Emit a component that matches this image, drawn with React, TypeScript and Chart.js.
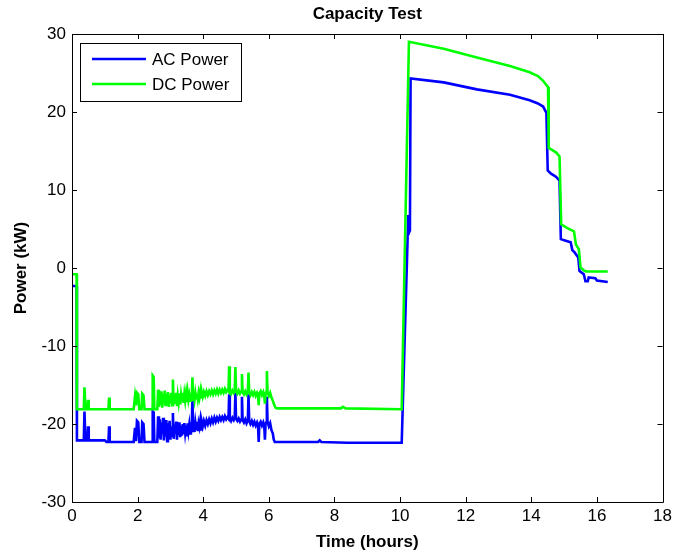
import React, { useEffect, useRef } from "react";
import { Chart, registerables } from "chart.js";

Chart.register(...registerables);

// ---- Data (hours, kW) ----
const acTime = [
  0, 0.14, 0.15, 0.36, 0.38, 0.41, 0.47, 0.49, 0.51, 1.0, 1.05, 1.11, 1.13, 1.15,
  1.88, 1.92, 1.95, 1.98, 2.02, 2.05, 2.12, 2.14, 2.18, 2.21, 2.44, 2.46, 2.49, 2.51,
  2.6, 2.625, 2.65, 2.675, 2.7, 2.725, 2.75, 2.775, 2.8, 2.825, 2.85, 2.875, 2.9,
  2.925, 2.95, 2.975, 3.0, 3.025, 3.05, 3.075, 3.1, 3.125, 3.15, 3.175, 3.2, 3.225,
  3.25, 3.275, 3.3, 3.325, 3.35, 3.375, 3.4, 3.425, 3.45, 3.475, 3.5, 3.525, 3.55,
  3.575, 3.6, 3.625, 3.65, 3.67, 3.69, 3.71, 3.735, 3.76, 3.785, 3.81, 3.835, 3.86,
  3.885, 3.91, 3.935, 3.96, 3.985,
  4.02, 4.06, 4.1, 4.14, 4.18, 4.22, 4.26, 4.3, 4.34, 4.38, 4.42, 4.46, 4.5, 4.54,
  4.58, 4.62, 4.66, 4.7, 4.74, 4.77, 4.79, 4.81, 4.85, 4.89, 4.93, 4.96, 4.98, 5.0,
  5.04, 5.08, 5.12, 5.16, 5.18, 5.2, 5.24, 5.28, 5.32, 5.36, 5.38, 5.4, 5.44, 5.48,
  5.52, 5.56, 5.6, 5.64, 5.67, 5.69, 5.71, 5.75, 5.79, 5.83, 5.86, 5.88, 5.9, 5.92,
  5.94, 5.96, 6.0, 6.04, 6.08, 6.12, 6.15, 6.18,
  7.5, 7.55, 7.6, 8.4, 10.05, 10.25, 10.27, 10.3, 10.32, 11.33, 12.34,
  13.35, 13.95, 14.2, 14.36, 14.46, 14.5, 14.6, 14.75, 14.86, 14.9, 15.05, 15.2,
  15.25, 15.32, 15.43, 15.47, 15.6, 15.65, 15.72, 15.75, 15.95, 16.0, 16.33,
];
const acPower = [
  -2.3, -2.3, -22.1, -22.1, -18.4, -22.1, -22.1, -20.3, -22.1, -22.1, -22.3, -22.3, -20.3, -22.3,
  -22.3, -20.5, -22.2, -19.6, -19.8, -22.3, -22.3, -19.8, -20.0, -22.3, -22.3, -18.4, -18.5, -22.3,
  -22.3, -19.0, -21.8, -19.4, -22.0, -19.8, -21.3, -19.2, -22.1, -20.0, -21.6, -19.5, -22.2,
  -19.9, -21.0, -19.6, -22.0, -20.3, -21.5, -18.6, -21.9, -20.1, -21.2, -19.7, -22.0, -20.4,
  -21.4, -19.8, -21.7, -20.2, -21.5, -20.0, -21.3, -19.9, -21.1, -20.2, -21.6, -19.9, -20.9,
  -20.1, -21.2, -19.8, -20.8, -16.5, -20.9, -20.0, -21.0, -19.8, -20.6, -19.7, -20.9, -19.9,
  -20.4, -19.6, -20.7, -19.8, -20.3,
  -19.6, -20.2, -19.5, -20.0, -19.4, -19.9, -19.3, -19.8, -19.2, -19.7, -19.2, -19.6, -19.1, -19.5,
  -19.1, -19.5, -19.0, -19.4, -19.1, -19.3, -16.2, -19.2, -19.6, -19.2, -19.5, -19.2, -16.0, -19.3,
  -19.6, -19.3, -19.7, -19.4, -16.5, -19.5, -19.8, -19.4, -19.9, -19.5, -16.2, -19.6, -20.0, -19.6,
  -20.1, -19.7, -20.2, -19.8, -20.2, -22.3, -20.0, -19.7, -20.2, -19.8, -20.3, -22.0, -20.0, -19.8,
  -16.5, -19.7, -20.3, -19.9, -20.8, -21.2, -22.0, -22.3,
  -22.3, -22.1, -22.3, -22.4, -22.4, 6.8, 4.5, 4.8, 24.3, 23.8, 22.9,
  22.2, 21.5, 21.1, 20.7, 19.9, 12.5, 12.1, 11.7, 11.2, 3.7, 3.5, 3.3,
  2.3, 2.0, 1.35, -0.4, -0.8, -1.7, -1.7, -1.2, -1.3, -1.6, -1.8,
];

const dcTime = [
  0, 0.14, 0.15, 0.36, 0.38, 0.41, 0.47, 0.49, 0.51, 1.11, 1.13, 1.15,
  1.88, 1.92, 1.95, 1.98, 2.02, 2.05, 2.12, 2.14, 2.18, 2.21, 2.44, 2.46, 2.49, 2.51,
  2.6, 2.625, 2.65, 2.675, 2.7, 2.725, 2.75, 2.775, 2.8, 2.825, 2.85, 2.875, 2.9,
  2.925, 2.95, 2.975, 3.0, 3.025, 3.05, 3.075, 3.1, 3.125, 3.15, 3.175, 3.2, 3.225,
  3.25, 3.275, 3.3, 3.325, 3.35, 3.375, 3.4, 3.425, 3.45, 3.475, 3.5, 3.525, 3.55,
  3.575, 3.6, 3.625, 3.65, 3.67, 3.69, 3.71, 3.735, 3.76, 3.785, 3.81, 3.835, 3.86,
  3.885, 3.91, 3.935, 3.96, 3.985,
  4.02, 4.06, 4.1, 4.14, 4.18, 4.22, 4.26, 4.3, 4.34, 4.38, 4.42, 4.46, 4.5, 4.54,
  4.58, 4.62, 4.66, 4.7, 4.74, 4.77, 4.79, 4.81, 4.85, 4.89, 4.93, 4.96, 4.98, 5.0,
  5.04, 5.08, 5.12, 5.16, 5.18, 5.2, 5.24, 5.28, 5.32, 5.36, 5.38, 5.4, 5.44, 5.48,
  5.52, 5.56, 5.6, 5.64, 5.67, 5.69, 5.71, 5.75, 5.79, 5.83, 5.86, 5.88, 5.9, 5.92,
  5.94, 5.96, 6.0, 6.04, 6.08, 6.12, 6.16, 6.2, 6.25,
  8.2, 8.25, 8.35, 10.05, 10.27, 11.33, 12.34, 13.35, 13.95, 14.2,
  14.36, 14.45, 14.51, 14.53, 14.76, 14.86, 14.91, 15.1, 15.3, 15.36, 15.45, 15.5,
  15.6, 15.67, 16.33,
];
const dcPower = [
  -0.8, -0.8, -18.1, -18.1, -15.3, -18.1, -18.1, -16.9, -18.1, -18.1, -16.6, -18.1,
  -18.1, -16.5, -17.6, -16.0, -16.2, -18.1, -18.1, -16.1, -16.3, -18.1, -18.1, -13.8, -14.0, -18.1,
  -18.1, -15.6, -17.8, -16.0, -17.6, -15.8, -17.9, -16.2, -17.4, -15.7, -17.7, -16.1, -17.5,
  -15.9, -17.8, -16.3, -17.3, -16.0, -17.6, -14.3, -17.5, -16.2, -17.4, -16.0, -17.7, -16.4,
  -17.2, -16.1, -17.5, -16.3, -17.1, -16.0, -17.3, -16.2, -17.0, -16.1, -17.2, -16.0, -16.9,
  -16.3, -17.0, -16.1, -16.8, -14.0, -16.9, -16.2, -16.9, -16.0, -16.7, -16.1, -16.8, -16.0,
  -16.6, -15.9, -16.6, -16.0, -16.5,
  -15.9, -16.4, -15.8, -16.3, -15.8, -16.2, -15.7, -16.2, -15.7, -16.1, -15.6, -16.1, -15.6, -16.0,
  -15.6, -16.0, -15.5, -15.9, -15.6, -15.8, -12.6, -15.7, -16.1, -15.7, -16.0, -15.7, -12.7, -15.8,
  -16.1, -15.7, -16.1, -15.8, -13.6, -15.9, -16.2, -15.8, -16.2, -15.8, -13.4, -15.9, -16.3, -15.9,
  -16.3, -15.9, -16.4, -16.0, -16.3, -17.6, -16.1, -15.8, -16.3, -15.9, -16.4, -17.4, -16.1, -15.9,
  -13.2, -15.9, -16.4, -16.0, -16.6, -17.0, -17.5, -17.9, -18.0,
  -18.0, -17.8, -18.0, -18.1, 29.0, 28.1, 27.0, 25.9, 25.1, 24.6,
  24.0, 23.5, 23.2, 15.4, 14.8, 14.3, 5.6, 5.1, 4.7, 3.0, 2.4, 0.06,
  -0.3, -0.45, -0.45,
];

const xTickValues = [0, 2, 4, 6, 8, 10, 12, 14, 16, 18];
const yTickValues = [-30, -20, -10, 0, 10, 20, 30];
const seriesLabels = ["AC Power", "DC Power"];
const seriesColors = ["#0000ff", "#00ff00"];
const titleText = "Capacity Test";
const xAxisTitle = "Time (hours)";
const yAxisTitle = "Power (kW)";

const FONT = "'Liberation Sans', Arial, Helvetica, sans-serif";

function pairs(t: number[], v: number[]) {
  return t.map((x, i) => ({ x, y: v[i] }));
}

const framePlugin = {
  id: "matlabFrame",
  afterDraw(chart: any) {
    const { ctx, chartArea } = chart;
    const { left, right, top, bottom } = chartArea;
    const xs = chart.scales.x;
    const ys = chart.scales.y;
    ctx.save();
    ctx.strokeStyle = "#000";
    ctx.lineWidth = 1;
    ctx.beginPath();
    ctx.rect(Math.round(left) + 0.5, Math.round(top) + 0.5, Math.round(right - left), Math.round(bottom - top));
    ctx.stroke();
    const tl = 5;
    ctx.beginPath();
    xTickValues.forEach((v) => {
      const px = Math.round(xs.getPixelForValue(v)) + 0.5;
      ctx.moveTo(px, bottom);
      ctx.lineTo(px, bottom - tl);
      ctx.moveTo(px, top);
      ctx.lineTo(px, top + tl);
    });
    yTickValues.forEach((v) => {
      const py = Math.round(ys.getPixelForValue(v)) + 0.5;
      ctx.moveTo(left, py);
      ctx.lineTo(left + tl, py);
      ctx.moveTo(right, py);
      ctx.lineTo(right - tl, py);
    });
    ctx.stroke();

    ctx.fillStyle = "#000";
    ctx.textAlign = "center";
    ctx.textBaseline = "middle";
    ctx.font = `bold 17px ${FONT}`;
    ctx.fillText(titleText, (left + right) / 2, 14);
    ctx.fillText(xAxisTitle, (left + right) / 2, 542);
    ctx.save();
    ctx.translate(21, (top + bottom) / 2);
    ctx.rotate(-Math.PI / 2);
    ctx.fillText(yAxisTitle, 0, 0);
    ctx.restore();

    const lx = 80.5, ly = 43.5, lw = 161, lh = 58;
    ctx.fillStyle = "#fff";
    ctx.fillRect(lx, ly, lw, lh);
    ctx.strokeStyle = "#000";
    ctx.lineWidth = 1;
    ctx.strokeRect(lx, ly, lw, lh);
    ctx.font = `17px ${FONT}`;
    ctx.textAlign = "left";
    ctx.textBaseline = "middle";
    seriesLabels.forEach((lab, i) => {
      const yy = 59 + i * 25;
      ctx.strokeStyle = seriesColors[i];
      ctx.lineWidth = 2.5;
      ctx.beginPath();
      ctx.moveTo(92, yy);
      ctx.lineTo(146, yy);
      ctx.stroke();
      ctx.fillStyle = "#000";
      ctx.fillText(lab, 152, yy + 1);
    });
    ctx.restore();
  },
};

export default function App() {
  const ref = useRef<HTMLCanvasElement | null>(null);
  useEffect(() => {
    document.body.style.margin = "0";
    const canvas = ref.current!;
    const chart = new Chart(canvas, {
      type: "line",
      data: {
        datasets: [
          {
            label: seriesLabels[0],
            data: pairs(acTime, acPower),
            borderColor: seriesColors[0],
            backgroundColor: seriesColors[0],
            borderWidth: 2.6,
            pointRadius: 0,
            tension: 0,
            order: 2,
          },
          {
            label: seriesLabels[1],
            data: pairs(dcTime, dcPower),
            borderColor: seriesColors[1],
            backgroundColor: seriesColors[1],
            borderWidth: 2.6,
            pointRadius: 0,
            tension: 0,
            order: 1,
          },
        ],
      },
      options: {
        responsive: false,
        animation: false,
        layout: { padding: { top: 34, right: 9, left: 0, bottom: 0 } },
        plugins: {
          legend: { display: false },
          title: { display: false },
          tooltip: { enabled: false },
        },
        scales: {
          x: {
            type: "linear",
            min: 0,
            max: 18,
            afterFit: (s: any) => {
              s.height = 52;
            },
            afterBuildTicks: (s: any) => {
              s.ticks = xTickValues.map((v) => ({ value: v }));
            },
            ticks: {
              color: "#000",
              font: { family: FONT, size: 17 },
              padding: 4,
              maxRotation: 0,
            },
            grid: { display: false, drawTicks: false },
            border: { display: false },
          },
          y: {
            type: "linear",
            min: -30,
            max: 30,
            afterFit: (s: any) => {
              s.width = 72;
            },
            afterBuildTicks: (s: any) => {
              s.ticks = yTickValues.map((v) => ({ value: v }));
            },
            ticks: {
              color: "#000",
              font: { family: FONT, size: 17 },
              padding: 6,
            },
            grid: { display: false, drawTicks: false },
            border: { display: false },
          },
        },
      },
      plugins: [framePlugin],
    });
    return () => chart.destroy();
  }, []);
  return (
    <div style={{ position: "absolute", left: 0, top: 0, width: 676, height: 554, background: "#fff" }}>
      <canvas ref={ref} width={676} height={554} style={{ width: 676, height: 554, display: "block" }} />
    </div>
  );
}
